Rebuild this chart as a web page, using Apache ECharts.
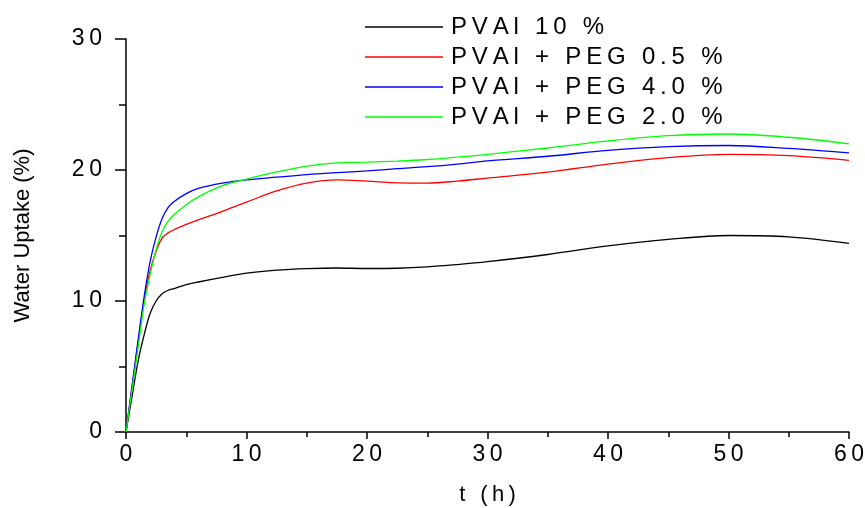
<!DOCTYPE html>
<html>
<head>
<meta charset="utf-8">
<script src="https://cdn.jsdelivr.net/npm/echarts@6/dist/echarts.min.js"></script>
<style>html,body{margin:0;padding:0;background:#fff}#c{width:865px;height:508px}</style>
</head>
<body>
<div id="c"></div>
<script>
const times = [0, 0.5, 1, 1.5, 2, 2.5, 3, 3.5, 4, 5, 6, 8, 10, 12.5, 15, 17.5, 20, 22.5, 25, 27.5, 30, 35, 40, 45, 50, 55, 60];
const pval10 = [0, 2.7, 5.4, 7.4, 9.05, 10.0, 10.55, 10.82, 10.95, 11.25, 11.45, 11.8, 12.12, 12.35, 12.47, 12.52, 12.48, 12.5, 12.6, 12.78, 13.0, 13.55, 14.2, 14.7, 15.0, 14.9, 14.4];
const peg05 = [0, 3.4, 6.8, 10.0, 12.3, 13.8, 14.8, 15.2, 15.45, 15.85, 16.2, 16.85, 17.55, 18.4, 19.0, 19.25, 19.15, 19.02, 19.0, 19.15, 19.38, 19.83, 20.45, 20.95, 21.2, 21.1, 20.74];
const peg40 = [0, 3.5, 7.0, 10.3, 13.0, 14.9, 16.3, 17.15, 17.6, 18.2, 18.6, 19.0, 19.25, 19.45, 19.65, 19.8, 19.93, 20.1, 20.25, 20.45, 20.7, 21.05, 21.5, 21.78, 21.87, 21.65, 21.3];
const peg20 = [0, 3.2, 6.4, 9.7, 12.0, 13.9, 15.3, 16.1, 16.6, 17.35, 17.95, 18.8, 19.3, 19.85, 20.3, 20.55, 20.6, 20.68, 20.8, 20.98, 21.2, 21.68, 22.22, 22.63, 22.75, 22.5, 22.0];
const seriesNames = ['PVAl 10 %', 'PVAl + PEG 0.5 %', 'PVAl + PEG 4.0 %', 'PVAl + PEG 2.0 %'];
const seriesValues = [pval10, peg05, peg40, peg20];
const seriesColors = ['#000000', '#ff0000', '#0000ff', '#00ff00'];
const xTitle = 't (h)';
const yTitle = 'Water Uptake (%)';

const sp = s => s.split('').join('\u2009');
const font = 'Liberation Sans, Arial, sans-serif';

const chart = echarts.init(document.getElementById('c'), null, {renderer: 'canvas'});
chart.setOption({
  animation: false,
  backgroundColor: '#fff',
  grid: {left: 126, right: 16, top: 39, bottom: 76, containLabel: false, outerBoundsMode: 'none'},
  legend: {
    orient: 'vertical', left: 360, top: 10, itemWidth: 78, itemHeight: 1.5, itemGap: 6,
    icon: 'rect',
    formatter: n => sp(n),
    textStyle: {fontFamily: font, fontSize: 24, color: '#000', padding: [0, 0, 0, 3]},
    data: seriesNames
  },
  xAxis: {
    type: 'value', min: 0, max: 60, interval: 10,
    name: sp(xTitle), nameLocation: 'middle', nameGap: 52,
    nameTextStyle: {fontFamily: font, fontSize: 22, color: '#000'},
    axisLine: {show: true, onZero: false, lineStyle: {color: '#000', width: 1.5}},
    axisTick: {show: true, inside: false, length: 7, lineStyle: {color: '#000', width: 1.5}},
    minorTick: {show: true, splitNumber: 2, length: 5, lineStyle: {color: '#000', width: 1.5}},
    splitLine: {show: false},
    axisLabel: {fontFamily: font, fontSize: 23, color: '#000', margin: 11, formatter: v => sp(String(v))}
  },
  yAxis: {
    type: 'value', min: 0, max: 30, interval: 10,
    name: yTitle, nameLocation: 'middle', nameGap: 92, nameRotate: 90,
    nameTextStyle: {fontFamily: font, fontSize: 22, color: '#000'},
    axisLine: {show: true, onZero: false, lineStyle: {color: '#000', width: 1.5}},
    axisTick: {show: true, inside: false, length: 11, lineStyle: {color: '#000', width: 1.5}},
    minorTick: {show: true, splitNumber: 2, length: 7, lineStyle: {color: '#000', width: 1.5}},
    splitLine: {show: false},
    axisLabel: {fontFamily: font, fontSize: 23, color: '#000', margin: 24, formatter: v => sp(String(v))}
  },
  series: seriesNames.map((n, i) => ({
    name: n, type: 'line', symbol: 'none', smooth: 0.35,
    lineStyle: {color: seriesColors[i], width: 1.3},
    itemStyle: {color: seriesColors[i]},
    data: times.map((t, j) => [t, seriesValues[i][j]])
  }))
});
</script>
</body>
</html>
